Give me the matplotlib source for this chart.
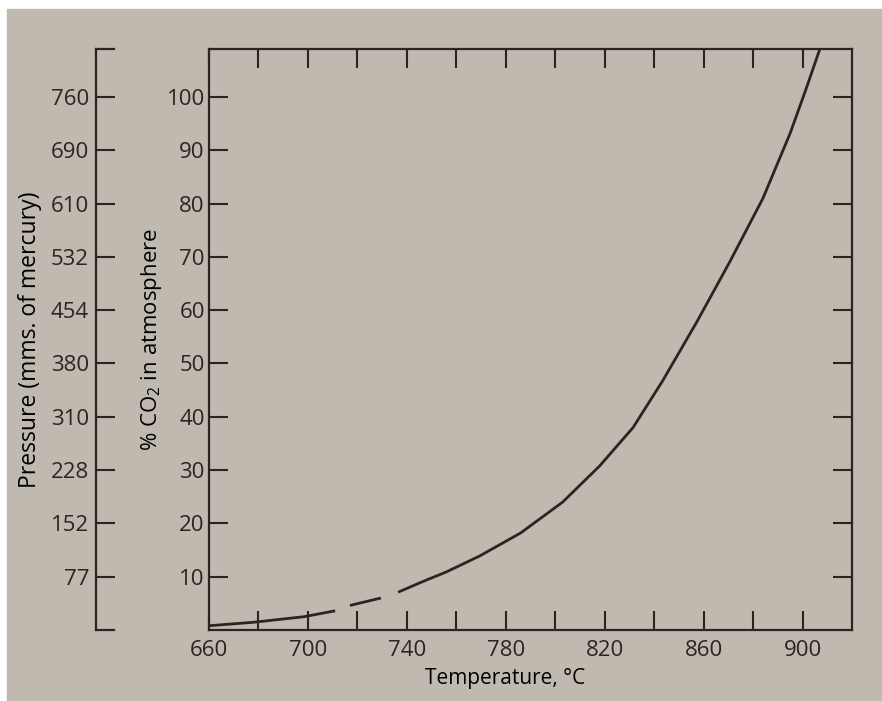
import numpy as np
import matplotlib
matplotlib.use("Agg")
import matplotlib.pyplot as plt
from matplotlib.patches import Rectangle

# values (NaN = break in the line)
temp_c = [660, 678, 698.5, 711, np.nan, 717, 729.5, np.nan, 736.5, 746.5, 756, 769.5,
          786, 803, 818, 831.5, 843.5, 857, 870.5, 884, 895, 901.5, 907]
co2_pct = [0.8, 1.45, 2.5, 3.6, np.nan, 4.6, 6.0, np.nan, 7.1, 9.1, 10.9, 13.9,
           18.2, 24.0, 30.8, 38.0, 46.8, 57.6, 69.0, 81.0, 93.2, 101.6, 109]

x_ticks = [660, 680, 700, 720, 740, 760, 780, 800, 820, 840, 860, 880, 900]
x_labels = ["660", "", "700", "", "740", "", "780", "", "820", "", "860", "", "900"]
pct_ticks = [10, 20, 30, 40, 50, 60, 70, 80, 90, 100]
pressure_labels = ["77", "152", "228", "310", "380", "454", "532", "610", "690", "760"]

ink = "#2b2421"
paper = "#bfb9b0"

plt.rcParams["font.family"] = ["Open Sans", "DejaVu Sans"]
plt.rcParams["mathtext.fontset"] = "custom"
plt.rcParams["mathtext.rm"] = "Open Sans"
plt.rcParams["text.color"] = ink

fig = plt.figure(figsize=(8.82, 7.01), dpi=100, facecolor="white")
fig.patches.append(Rectangle((7 / 882, 0), 1, 1 - 9 / 701, transform=fig.transFigure,
                             color=paper, zorder=-10))

# main chart
ax = fig.add_axes([209 / 882, 1 - 630 / 701, 643 / 882, 581 / 701])
ax.patch.set_alpha(0)
ax.plot(temp_c, co2_pct, color=ink, lw=2.0, solid_capstyle="butt",
        solid_joinstyle="round")
ax.set_xlim(660, 920)
ax.set_ylim(0, 109)
ax.set_xticks(x_ticks)
ax.set_xticklabels(x_labels)
ax.set_yticks(pct_ticks)
ax.set_yticklabels([str(v) for v in pct_ticks])
ax.tick_params(direction="in", top=True, right=True, length=14, width=1.5,
               color=ink, labelcolor=ink, labelsize=16)
ax.tick_params(axis="x", pad=7)
ax.tick_params(axis="y", pad=3)
for s in ax.spines.values():
    s.set_linewidth(1.6)
    s.set_color(ink)
ax.set_xlabel("Temperature, °C", fontsize=15, labelpad=5, x=0.46)
ax.set_ylabel("% CO$_2$ in atmosphere", fontsize=16, labelpad=2)

# pressure scale on the far left
axp = fig.add_axes([96 / 882, 1 - 630 / 701, 18 / 882, 581 / 701])
axp.patch.set_alpha(0)
axp.set_ylim(0, 109)
axp.set_xticks([])
axp.set_yticks(pct_ticks)
axp.set_yticklabels(pressure_labels)
axp.tick_params(axis="y", direction="in", length=14, width=1.5, color=ink,
                labelcolor=ink, labelsize=16, pad=5)
axp.spines["right"].set_visible(False)
for s in ["left", "top", "bottom"]:
    axp.spines[s].set_linewidth(1.6)
    axp.spines[s].set_color(ink)
axp.set_ylabel("Pressure (mms. of mercury)", fontsize=16.5, labelpad=6)

fig.savefig("out.png", dpi=100, facecolor=fig.get_facecolor())
